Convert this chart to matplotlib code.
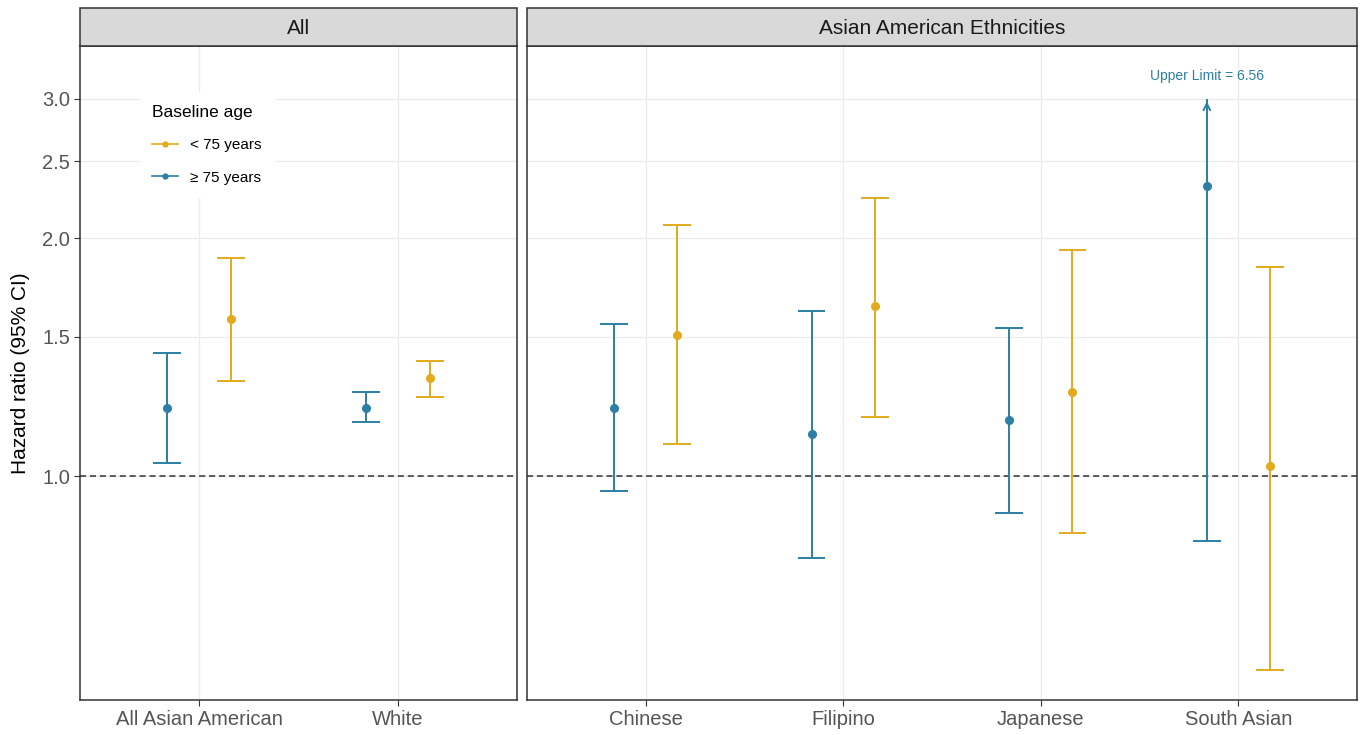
import numpy as np
import matplotlib.pyplot as plt
from matplotlib.lines import Line2D
from matplotlib.patches import Rectangle

plt.rcParams['font.family'] = ['Liberation Sans', 'DejaVu Sans']

# hazard ratios
groups_all = ["All Asian American", "White"]
hr_old_all = [1.22, 1.22]
lo_old_all = [1.04, 1.17]
hi_old_all = [1.43, 1.28]
hr_young_all = [1.58, 1.33]
lo_young_all = [1.32, 1.26]
hi_young_all = [1.89, 1.40]

groups_eth = ["Chinese", "Filipino", "Japanese", "South Asian"]
hr_old_eth = [1.22, 1.13, 1.18, 2.33]
lo_old_eth = [0.958, 0.789, 0.899, 0.830]
hi_old_eth = [1.56, 1.62, 1.54, 6.56]
hr_young_eth = [1.51, 1.64, 1.28, 1.03]
lo_young_eth = [1.10, 1.19, 0.848, 0.569]
hi_young_eth = [2.08, 2.25, 1.93, 1.84]

ytop = 3.0   # upper display limit for the CI
ticks = [1.0, 1.5, 2.0, 2.5, 3.0]

col_young = "#E2AB1C"
col_old = "#2C7FA5"
grid_col = "#EBEBEB"
txt_col = "#555555"

W, H = 1365, 735
fig = plt.figure(figsize=(W / 100, H / 100), dpi=100)

def frac(x0, y0, x1, y1):
    return [x0 / W, 1 - y1 / H, (x1 - x0) / W, (y1 - y0) / H]

ax1 = fig.add_axes(frac(80, 46, 517, 700))
ax2 = fig.add_axes(frac(527, 46, 1357, 700))

dodge = 0.16
cap = 0.07


def draw_series(ax, x, hr, lo, hi, col):
    for xi, m, l, h in zip(x, hr, lo, hi):
        if h > ytop:
            ax.plot([xi, xi], [l, ytop * 0.995], color=col, lw=1.4, zorder=3)
            ax.hlines(l, xi - cap, xi + cap, color=col, lw=1.4, zorder=3)
            ax.annotate("", xy=(xi, ytop), xytext=(xi, ytop * 0.97),
                        arrowprops=dict(arrowstyle="->", color=col, lw=1.4,
                                        mutation_scale=12), zorder=3)
            ax.text(xi, 3.2, "Upper Limit = %.2f" % h, color=col, fontsize=10,
                    ha="center", va="center")
        else:
            ax.plot([xi, xi], [l, h], color=col, lw=1.4, zorder=3)
            ax.hlines([l, h], xi - cap, xi + cap, color=col, lw=1.4, zorder=3)
        ax.plot(xi, m, "o", color=col, ms=5.5, zorder=4)


def style(ax, labels, title):
    n = len(labels)
    ax.set_yscale("log")
    ax.set_ylim(0.522, 3.496)
    ax.set_xlim(-0.6, n - 1 + 0.6)
    ax.set_xticks(range(n))
    ax.set_xticklabels(labels, fontsize=14.5, color=txt_col)
    ax.set_yticks(ticks)
    ax.set_yticklabels(["%.1f" % t for t in ticks], fontsize=14.5, color=txt_col)
    ax.yaxis.set_minor_locator(plt.NullLocator())
    ax.tick_params(axis="both", length=4, color="#333333", width=0.8, pad=3)
    ax.grid(True, color=grid_col, lw=0.9, zorder=0)
    ax.set_axisbelow(True)
    for s in ax.spines.values():
        s.set_color("#333333")
        s.set_linewidth(1.1)
    ax.axhline(1.0, color="#333333", ls=(0, (4, 2.5)), lw=1.1, zorder=2)
    # facet strip
    bb = ax.get_position()
    strip = Rectangle((bb.x0, 1 - 46 / H), bb.width, 38 / H, transform=fig.transFigure,
                      facecolor="#D9D9D9", edgecolor="#333333", lw=1.1)
    fig.patches.append(strip)
    fig.text(bb.x0 + bb.width / 2, 1 - 28 / H, title, ha="center", va="center",
             fontsize=15, color="#1A1A1A")


x_all = np.arange(len(groups_all))
x_eth = np.arange(len(groups_eth))

draw_series(ax1, x_all - dodge, hr_old_all, lo_old_all, hi_old_all, col_old)
draw_series(ax1, x_all + dodge, hr_young_all, lo_young_all, hi_young_all, col_young)
draw_series(ax2, x_eth - dodge, hr_old_eth, lo_old_eth, hi_old_eth, col_old)
draw_series(ax2, x_eth + dodge, hr_young_eth, lo_young_eth, hi_young_eth, col_young)

style(ax1, groups_all, "All")
style(ax2, groups_eth, "Asian American Ethnicities")
ax2.set_yticklabels([])
ax2.tick_params(axis="y", length=0)

ax1.set_ylabel("Hazard ratio (95% CI)", fontsize=15, color="black")
ax1.yaxis.set_label_coords(-0.115, 0.5)

handles = [Line2D([], [], color=col_young, marker="o", ms=3.5, lw=1.2),
           Line2D([], [], color=col_old, marker="o", ms=3.5, lw=1.2)]
leg = ax1.legend(handles, ["< 75 years", "\u2265 75 years"], title="Baseline age",
                 loc="upper left", bbox_to_anchor=(0.12, 0.94), frameon=True,
                 fontsize=11, title_fontsize=12.5, handlelength=1.7,
                 handletextpad=0.8, labelspacing=1.2, borderpad=0.8)
leg.get_frame().set_edgecolor("white")
leg.get_frame().set_facecolor("white")
leg.get_frame().set_alpha(1)
leg._legend_box.align = "left"

fig.savefig("out.png", dpi=100)
